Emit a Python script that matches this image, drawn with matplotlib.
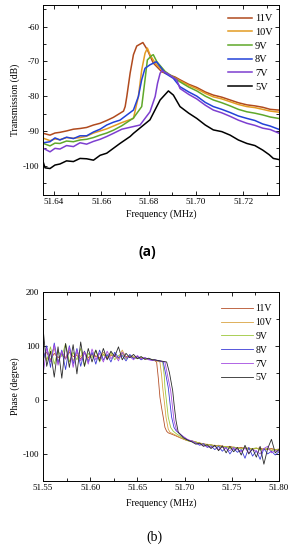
import matplotlib
matplotlib.use("Agg")
import matplotlib.pyplot as plt
from matplotlib.ticker import MultipleLocator

plt.rcParams["font.family"] = ["Liberation Serif", "DejaVu Serif"]
plt.rcParams["axes.unicode_minus"] = False

LABELS = ["11V", "10V", "9V", "8V", "7V", "5V"]
COLORS_A = ["#b04a1e", "#e39b22", "#5fa82a", "#2342d8", "#7d3fd0", "#000000"]
COLORS_B = ["#b5502a", "#d9a441", "#9cc83a", "#3a3ad6", "#a44be0", "#2a2a2a"]

# ---------------- (a) transmission ----------------
A_F_11 = [51.6355, 51.6383, 51.6404, 51.6425, 51.6453, 51.6482, 51.6510, 51.6538, 51.6567,
          51.6595, 51.6623, 51.6651, 51.6687, 51.6694,
          51.6701, 51.6708, 51.6722, 51.6736, 51.6750, 51.6776, 51.6795, 51.6820, 51.6856,
          51.6884, 51.6912, 51.6933, 51.6970, 51.7004, 51.7040, 51.7074, 51.7110, 51.7145,
          51.7180, 51.7216, 51.7250, 51.7283, 51.7315, 51.7350]
A_DB_11 = [-90.7, -91.2, -90.6, -90.4, -90.0, -89.5, -89.3, -89.0, -88.3,
           -87.8, -87.0, -86.1, -84.6, -84.3,
           -83.0, -80.1, -73.4, -68.1, -65.6, -64.6, -66.7, -70.5, -73.0,
           -73.8, -74.5, -75.3, -76.6, -77.5, -78.8, -79.7, -80.3, -81.1,
           -81.9, -82.5, -82.8, -83.2, -83.8, -84.0]

A_F_10 = [51.6355, 51.6383, 51.6404, 51.6425, 51.6453, 51.6482, 51.6510, 51.6538, 51.6567,
          51.6595, 51.6623, 51.6651, 51.6687, 51.6736,
          51.6757, 51.6771, 51.6785, 51.6795, 51.6806, 51.6828, 51.6863, 51.6933, 51.6970,
          51.7004, 51.7040, 51.7074, 51.7110, 51.7145, 51.7180, 51.7216, 51.7250, 51.7283,
          51.7315, 51.7350]
A_DB_10 = [-92.1, -92.8, -92.3, -92.5, -91.9, -92.1, -91.9, -91.5, -90.6,
           -90.0, -89.4, -88.6, -87.6, -86.4,
           -80.1, -72.5, -67.7, -66.2, -68.1, -70.5, -72.9, -75.6, -76.9,
           -77.9, -79.2, -80.2, -80.8, -81.6, -82.4, -83.0, -83.3, -83.8,
           -84.3, -84.6]

A_F_9 = [51.6355, 51.6383, 51.6404, 51.6425, 51.6453, 51.6482, 51.6510, 51.6538, 51.6567,
         51.6595, 51.6623, 51.6651, 51.6687, 51.6736,
         51.6771, 51.6785, 51.6795, 51.6814, 51.6820, 51.6835, 51.6870, 51.6933, 51.6970,
         51.7004, 51.7040, 51.7074, 51.7110, 51.7145, 51.7180, 51.7216, 51.7250, 51.7283,
         51.7315, 51.7350]
A_DB_9 = [-93.6, -94.3, -93.5, -93.6, -92.9, -93.1, -92.6, -92.4, -91.9,
          -91.2, -90.6, -89.8, -88.5, -86.3,
          -83.0, -75.3, -69.6, -68.3, -68.1, -70.1, -72.9, -75.9, -77.4,
          -78.5, -80.0, -81.1, -81.9, -82.8, -83.8, -84.5, -84.9, -85.4,
          -86.0, -86.4]

A_F_8 = [51.6355, 51.6383, 51.6404, 51.6425, 51.6453, 51.6482, 51.6510, 51.6538, 51.6567,
         51.6595, 51.6623, 51.6651, 51.6679, 51.6736,
         51.6757, 51.6771, 51.6785, 51.6806, 51.6833, 51.6849, 51.6870, 51.6905, 51.6933,
         51.6970, 51.7004, 51.7040, 51.7074, 51.7110, 51.7145, 51.7180, 51.7216, 51.7250,
         51.7283, 51.7315, 51.7350]
A_DB_8 = [-93.4, -93.1, -92.0, -92.6, -91.8, -92.2, -91.4, -91.4, -90.3,
          -89.5, -88.3, -87.5, -86.9, -84.0,
          -80.1, -75.3, -72.0, -71.0, -70.1, -71.5, -73.4, -74.9, -77.3,
          -78.8, -80.0, -81.8, -83.0, -83.8, -84.7, -85.7, -86.4, -87.0,
          -88.0, -88.6, -89.5]

A_F_7 = [51.6355, 51.6383, 51.6404, 51.6425, 51.6453, 51.6482, 51.6510, 51.6538, 51.6567,
         51.6595, 51.6623, 51.6651, 51.6687, 51.6764,
         51.6806, 51.6828, 51.6838, 51.6849, 51.6857, 51.6877, 51.6919, 51.6933, 51.6970,
         51.7004, 51.7040, 51.7074, 51.7110, 51.7145, 51.7180, 51.7216, 51.7250, 51.7283,
         51.7315, 51.7350]
A_DB_7 = [-95.0, -96.0, -95.0, -95.2, -94.2, -94.5, -93.4, -93.8, -93.0,
          -92.4, -91.6, -90.7, -89.5, -88.3,
          -84.5, -80.1, -76.3, -73.4, -72.7, -73.4, -75.3, -77.8, -79.5,
          -80.8, -82.6, -84.0, -84.8, -85.8, -86.9, -87.8, -88.4, -89.2,
          -89.6, -90.6]

A_F_5 = [51.6355, 51.6362, 51.6383, 51.6404, 51.6425, 51.6453, 51.6482, 51.6510, 51.6538,
         51.6567, 51.6595, 51.6623, 51.6651,
         51.6679, 51.6722, 51.6736, 51.6806, 51.6849, 51.6884, 51.6905, 51.6933, 51.6970,
         51.7004, 51.7040, 51.7074, 51.7110, 51.7145, 51.7180, 51.7216, 51.7250, 51.7283,
         51.7310, 51.7328, 51.7350]
A_DB_5 = [-99.1, -100.6, -100.8, -99.8, -99.5, -98.6, -98.8, -97.9, -98.0,
          -98.4, -97.0, -96.4, -95.0,
          -93.6, -91.6, -90.7, -86.8, -81.1, -78.5, -79.7, -83.0, -84.9,
          -86.4, -88.3, -89.7, -90.2, -91.2, -92.6, -93.6, -94.2, -95.5,
          -96.8, -97.9, -98.2]

# ---------------- (b) phase ----------------
B_F_LEFT = [51.550, 51.554, 51.558, 51.562, 51.566, 51.570, 51.574, 51.578, 51.582, 51.586,
            51.590, 51.594, 51.598, 51.602, 51.606, 51.610, 51.614, 51.618, 51.622, 51.626,
            51.630, 51.634, 51.638, 51.642, 51.646, 51.650, 51.654, 51.658, 51.662, 51.666]
B_F_RIGHT = [51.708, 51.712, 51.716, 51.720, 51.724, 51.728, 51.732, 51.736, 51.740, 51.744,
             51.748, 51.752, 51.756, 51.760, 51.764, 51.768, 51.772, 51.776, 51.780, 51.784,
             51.788, 51.792, 51.796, 51.800]

B_L_11 = [82, 88, 74, 86, 78, 84, 76, 88, 80, 82, 76, 86, 78, 84, 80, 78, 84, 76, 82, 80,
          78, 86, 80, 79, 78, 80, 76, 77, 75, 74]
B_L_10 = [90, 75, 85, 95, 70, 88, 78, 92, 72, 86, 80, 90, 74, 84, 82, 76, 88, 78, 84, 80,
          76, 92, 78, 82, 80, 77, 79, 76, 75, 74]
B_L_9 = [85, 72, 98, 66, 90, 80, 104, 70, 88, 74, 95, 62, 86, 78, 92, 70, 84, 80, 88, 74,
         82, 86, 76, 80, 78, 76, 79, 75, 76, 74]
B_L_8 = [70, 100, 60, 105, 68, 92, 56, 100, 66, 95, 62, 90, 70, 88, 66, 92, 74, 84, 70, 88,
         78, 82, 72, 84, 76, 80, 74, 78, 75, 73]
B_L_7 = [45, 96, 70, 102, 64, 90, 75, 98, 60, 92, 72, 88, 66, 94, 74, 86, 70, 90, 76, 84,
         72, 88, 78, 80, 74, 82, 76, 78, 74, 73]
B_L_5 = [135, 62, 90, 42, 98, 40, 104, 60, 102, 48, 107, 62, 95, 70, 92, 72, 95, 74, 90, 80,
         98, 74, 86, 78, 84, 76, 80, 75, 77, 74]

B_T_F_11 = [51.6680, 51.6704, 51.6722, 51.6739, 51.6757, 51.6774, 51.6792, 51.6810, 51.6827,
            51.6900, 51.6951, 51.7022]
B_T_P_11 = [73, 70, 40, 5, -15, -32, -51, -58, -61, -66, -70, -75]
B_T_F_10 = [51.6680, 51.6739, 51.6757, 51.6768, 51.6790, 51.6803, 51.6827, 51.6845, 51.6880,
            51.6969, 51.7040]
B_T_P_10 = [73, 70, 45, 23, -10, -32, -54, -60, -63, -71, -76]
B_T_F_9 = [51.6680, 51.6768, 51.6785, 51.6792, 51.6810, 51.6827, 51.6853, 51.6880, 51.6916,
           51.6986, 51.7040]
B_T_P_9 = [74, 70, 45, 23, -5, -32, -51, -58, -63, -71, -76]
B_T_F_8 = [51.6680, 51.6774, 51.6800, 51.6827, 51.6845, 51.6863, 51.6888, 51.6910, 51.6951,
           51.7022]
B_T_P_8 = [74, 70, 48, 23, -5, -32, -51, -57, -63, -73]
B_T_F_7 = [51.6680, 51.6792, 51.6820, 51.6853, 51.6870, 51.6888, 51.6916, 51.6969, 51.7040]
B_T_P_7 = [74, 70, 45, 17, -10, -38, -57, -66, -74]
B_T_F_5 = [51.6680, 51.6810, 51.6840, 51.6874, 51.6890, 51.6909, 51.6933, 51.6986, 51.7040]
B_T_P_5 = [74, 70, 50, 17, -10, -38, -60, -70, -75]

B_R_11 = [-76, -78, -80, -81, -83, -83, -85, -84, -86, -87, -86, -88, -89, -88, -90, -89,
          -91, -90, -89, -92, -91, -90, -92, -91]
B_R_10 = [-77, -78, -80, -82, -82, -84, -84, -86, -85, -88, -86, -89, -88, -90, -89, -90,
          -91, -89, -92, -90, -92, -91, -93, -92]
B_R_9 = [-76, -78, -81, -82, -84, -83, -86, -85, -88, -86, -90, -87, -89, -91, -88, -92,
         -90, -89, -93, -91, -90, -94, -92, -93]
B_R_8 = [-77, -80, -84, -81, -88, -85, -92, -86, -95, -88, -100, -90, -97, -92, -108, -88,
         -104, -94, -110, -90, -100, -95, -102, -96]
B_R_7 = [-76, -80, -82, -84, -86, -88, -85, -92, -87, -90, -94, -88, -92, -96, -89, -98,
         -92, -95, -100, -90, -86, -98, -94, -95]
B_R_5 = [-78, -82, -80, -86, -83, -90, -84, -94, -85, -98, -86, -96, -88, -102, -84, -100,
         -90, -106, -86, -119, -90, -73, -98, -92]

A_CURVES = [(A_F_11, A_DB_11), (A_F_10, A_DB_10), (A_F_9, A_DB_9),
            (A_F_8, A_DB_8), (A_F_7, A_DB_7), (A_F_5, A_DB_5)]
B_CURVES = [(B_L_11, B_T_F_11, B_T_P_11, B_R_11), (B_L_10, B_T_F_10, B_T_P_10, B_R_10),
            (B_L_9, B_T_F_9, B_T_P_9, B_R_9), (B_L_8, B_T_F_8, B_T_P_8, B_R_8),
            (B_L_7, B_T_F_7, B_T_P_7, B_R_7), (B_L_5, B_T_F_5, B_T_P_5, B_R_5)]


def style_axes(ax, xmaj, xmin, ymaj, ymin):
    ax.xaxis.set_major_locator(MultipleLocator(xmaj))
    ax.xaxis.set_minor_locator(MultipleLocator(xmin))
    ax.yaxis.set_major_locator(MultipleLocator(ymaj))
    ax.yaxis.set_minor_locator(MultipleLocator(ymin))
    ax.tick_params(which="both", direction="in", top=True, right=True, labelsize=6.5,
                   width=0.6, pad=2.5)
    ax.tick_params(which="major", length=3)
    ax.tick_params(which="minor", length=2.5)
    for s in ax.spines.values():
        s.set_linewidth(0.7)


fig = plt.figure(figsize=(2.94, 5.50), dpi=100)

ax1 = fig.add_axes([0.146, 0.6455, 0.803, 0.3455])
for (f, v), lab, c in zip(A_CURVES, LABELS, COLORS_A):
    ax1.plot(f, v, color=c, lw=1.1, label=lab)
ax1.set_xlim(51.6353, 51.7352)
ax1.set_ylim(-108.4, -53.8)
style_axes(ax1, 0.02, 0.01, 10, 5)
ax1.set_xlabel("Frequency (MHz)", fontsize=7, labelpad=2)
ax1.set_ylabel("Transmission (dB)", fontsize=7, labelpad=2)
ax1.legend(loc="upper right", frameon=False, fontsize=7.5, handlelength=2.3,
           handletextpad=0.3, labelspacing=0.42, borderaxespad=0.2,
           bbox_to_anchor=(1.0, 0.985))

ax2 = fig.add_axes([0.146, 0.1255, 0.803, 0.3442])
for (left, tf, tp, right), lab, c in zip(B_CURVES, LABELS, COLORS_B):
    ax2.plot(B_F_LEFT + tf + B_F_RIGHT, left + tp + right, color=c, lw=0.6, label=lab)
ax2.set_xlim(51.55, 51.80)
ax2.set_ylim(-150, 200)
style_axes(ax2, 0.05, 0.025, 100, 50)
ax2.set_xlabel("Frequency (MHz)", fontsize=7, labelpad=4)
ax2.set_ylabel("Phase (degree)", fontsize=7, labelpad=2)
ax2.legend(loc="upper right", frameon=False, fontsize=7, handlelength=3.2,
           handletextpad=0.3, labelspacing=0.5, borderaxespad=0.3,
           bbox_to_anchor=(1.0, 0.97))

fig.text(0.50, 1 - 252 / 550, "(a)", ha="center", va="center", fontsize=10,
         fontweight="bold", family=["Open Sans", "DejaVu Sans"])
fig.text(0.525, 1 - 537 / 550, "(b)", ha="center", va="center", fontsize=10)

fig.savefig("out.png", dpi=100)
